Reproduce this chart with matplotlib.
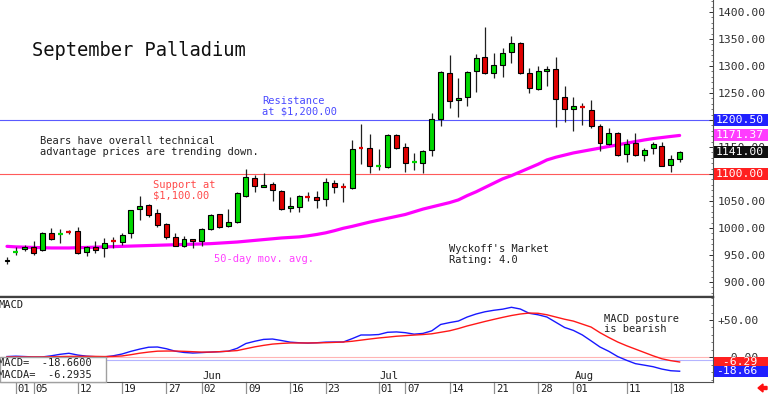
import matplotlib
matplotlib.use('Agg')
import matplotlib.pyplot as plt
from matplotlib.patches import Rectangle, FancyArrow
from matplotlib.transforms import blended_transform_factory, offset_copy, IdentityTransform
from matplotlib.ticker import FuncFormatter, MultipleLocator

plt.rcParams['font.family'] = ['DejaVu Sans Mono']

# ---------------- data ----------------
opens = [939, 955, 961, 965, 959, 990.5, 988, 993.5, 994.5, 955.5,
         965, 963, 976.5, 974, 990.5, 1035, 1042.5, 1028, 1007.5, 983.5,
         966.5, 979.5, 976, 998, 1026, 1003.5, 1011, 1059, 1092.5, 1076.5,
         1081.5, 1068.5, 1037.5, 1039, 1058, 1057.5, 1053.5, 1083.5, 1076.5, 1074,
         1149, 1148, 1114, 1113, 1172, 1150, 1121.5, 1120.5, 1144.5, 1202,
         1287, 1237.5, 1242.5, 1290.5, 1316.5, 1287, 1302, 1326, 1342.5, 1287,
         1257.5, 1291.5, 1294.5, 1242.5, 1220.5, 1225, 1218.5, 1189, 1155.5, 1176,
         1137, 1157.5, 1135, 1148, 1152, 1116.5, 1128]
highs = [946, 965, 968.5, 976, 992.5, 1000, 998, 996, 1002, 966.5,
         976, 981.5, 983, 990.5, 1034, 1059, 1044.5, 1035, 1009, 990.5,
         985, 980, 1000, 1025, 1026.5, 1035, 1066.5, 1109, 1098, 1102,
         1085, 1070.5, 1057.5, 1061, 1066.5, 1068.5, 1092.5, 1089, 1083.5, 1163,
         1192.5, 1174, 1146, 1174, 1174, 1157.5, 1139, 1144.5, 1213, 1290.5,
         1320.5, 1278, 1290.5, 1322, 1372, 1324, 1333, 1355.5, 1344.5, 1296.5,
         1300, 1300, 1316.5, 1263, 1242.5, 1231.5, 1237, 1192.5, 1185, 1178,
         1165, 1176, 1148, 1159.5, 1159.5, 1135, 1142]
lows = [933, 950, 957, 950, 957, 978, 972, 989, 952, 948,
        953.5, 946, 963, 968.5, 981.5, 1015, 1020.5, 1002, 979.5, 966,
        965, 963, 966.5, 996.5, 1000, 1002, 1009, 1057.5, 1066.5, 1076,
        1050, 1034, 1029.5, 1029.5, 1050, 1037, 1040.5, 1065, 1048, 1073,
        1118.5, 1102, 1107.5, 1111, 1146.5, 1103.5, 1107.5, 1102, 1133, 1189,
        1222, 1205.5, 1226, 1252, 1285, 1278, 1279.5, 1305.5, 1285, 1250,
        1256, 1263, 1187, 1196.5, 1179.5, 1190.5, 1185, 1142.5, 1153.5, 1134,
        1122, 1133, 1124, 1137, 1114, 1103.5, 1122]
closes = [941, 956.5, 965, 954, 990.5, 979.5, 989.5, 992, 954, 965,
          959, 972, 975, 987, 1033, 1040.5, 1024, 1005.5, 983.5, 966.5,
          979.5, 976, 998, 1024, 1002, 1011, 1065, 1094.5, 1078, 1079,
          1070.5, 1035, 1040, 1059, 1056.5, 1052, 1085, 1076, 1075, 1146.5,
          1147.5, 1115, 1115.5, 1172, 1148, 1120.5, 1123, 1142.5, 1202, 1289,
          1235, 1240, 1289, 1315, 1287, 1302, 1324, 1342.5, 1287, 1259,
          1290.5, 1294, 1239, 1220.5, 1226, 1223.5, 1189, 1157.5, 1176, 1135,
          1155.5, 1135, 1144.5, 1155.5, 1115, 1128, 1141]
ma50 = [966, 965, 964.5, 964, 963.5, 963, 963, 963, 963.5, 964,
        964.5, 965, 965.5, 966, 966.5, 967, 967.5, 968, 968.5, 969,
        969.5, 970, 970.5, 971, 972, 973, 974, 975.5, 977, 978.5,
        980, 981.5, 982.5, 983.5, 985.5, 988, 991, 995, 999.5, 1003,
        1007, 1011, 1014.5, 1018, 1021.5, 1025, 1030, 1035, 1039, 1043,
        1047, 1052, 1060, 1067, 1075, 1083, 1091, 1097, 1104, 1111,
        1118, 1126, 1131, 1135, 1139, 1142, 1145, 1148, 1151, 1154,
        1157, 1160, 1163, 1165.5, 1167.5, 1169.5, 1171.37]
macd = [1, 1.5, 1, 0.5, 0.5, 2, 4, 5.4, 3, 1.5,
        0.8, 0.5, 2, 4.4, 8, 11, 13.5, 13.8, 11.5, 8.2,
        6.5, 5.7, 6.3, 7, 7.5, 8.2, 12, 18.5, 21.5, 24,
        24.5, 22.5, 20.3, 19.5, 19, 19.5, 20.3, 20.5, 20.5, 25,
        29.9, 29.9, 30.5, 33.5, 34, 33, 31, 32, 35.5, 44,
        46.5, 48.6, 54, 58, 61, 63, 64.5, 67, 64.7, 59,
        57, 54, 47, 40, 36, 30, 22, 13.8, 8, 1,
        -4, -8.5, -10.5, -12.6, -15.8, -18, -18.66]
macd_signal = [0.5, 0.5, 0.5, 0.5, 0.5, 0.8, 1, 1.2, 1.3, 1.3,
               1.2, 1, 1.2, 1.8, 3.5, 5.5, 7, 8.2, 8.4, 8.4,
               8, 7.5, 7, 7, 7.5, 8.2, 9, 11.5, 14, 16,
               17.7, 18.6, 19.2, 19.2, 19.2, 19.3, 19.6, 20, 20.5, 21.5,
               23, 24.5, 25.9, 27, 28.2, 29, 29.8, 30.5, 31.5, 33.5,
               35.5, 38.5, 42, 45, 48, 50.8, 53.5, 56, 58, 59.3,
               59, 57, 54, 51, 48.5, 44.5, 40.5, 33, 26.5, 20.5,
               15.5, 11, 6.5, 2, -2, -4.5, -6.29]
macd_info = [-18.6600, -6.2935]

tick_idx = [2, 4, 9, 14, 19, 23, 28, 33, 37, 43, 46, 51, 56, 61, 65, 71, 76]
tick_lbl = ['01', '05', '12', '19', '27', '02', '09', '16', '23',
            '01', '07', '14', '21', '28', '01', '11', '18']
month_idx = [23, 43, 65]
month_lbl = ['Jun', 'Jul', 'Aug']
price_ticks = [900, 950, 1000, 1050, 1100, 1150, 1200, 1250, 1300, 1350, 1400]
macd_ticks = [0, 50]
resistance = 1200.50
support = 1100.00
macd_zero_lines = [0.0, -3.6]

# ---------------- figure ----------------
W, H = 768, 394
fig = plt.figure(figsize=(W / 100, H / 100), dpi=100)
fig.patch.set_facecolor('white')

ax = fig.add_axes([0, (H - 297) / H, 713 / W, 297 / H])
axm = fig.add_axes([0, 12 / H, 713 / W, 85 / H])

idx = list(range(1, len(opens) + 1))
for a in (ax, axm):
    a.set_xlim(0.21, 80.77)
    a.set_facecolor('white')
    a.spines['left'].set_visible(False)
    a.tick_params(axis='x', bottom=False, labelbottom=False)

ax.set_ylim(872.2, 1422.2)
axm.set_ylim(-33.1, 80.8)

GREEN = '#00d800'
RED = '#e00000'
bw = 0.56

# reference lines
ax.axhline(resistance, color='#5a5aff', lw=0.8, zorder=1)
ax.axhline(support, color='#ff5a5a', lw=0.8, zorder=1)

# moving average
ax.plot(idx, ma50, color='#ff00ff', lw=2.3, zorder=1.5, solid_capstyle='round')

# candles
ax.vlines(idx, lows, highs, color='#202020', lw=0.9, zorder=2)
for i, o, c in zip(idx, opens, closes):
    col = GREEN if c >= o else RED
    if abs(c - o) < 2:
        ax.hlines((o + c) / 2, i - bw / 2, i + bw / 2, color=col, lw=1.6, zorder=3)
    else:
        ax.add_patch(Rectangle((i - bw / 2, min(o, c)), bw, abs(c - o),
                               facecolor=col, edgecolor='black', lw=0.8, zorder=3))

# price axis
ax.yaxis.tick_right()
ax.set_yticks(price_ticks)
ax.yaxis.set_major_formatter(FuncFormatter(lambda v, p: f"{v:7.2f}"))
ax.yaxis.set_minor_locator(MultipleLocator(10))
ax.tick_params(axis='y', which='major', direction='in', length=3, pad=3,
               labelsize=8.2, colors='#303030', width=0.7)
ax.tick_params(axis='y', which='minor', direction='in', length=1.5, width=0.6, colors='#606060')
ax.spines['top'].set_visible(False)
ax.spines['right'].set_color('#505050')
ax.spines['right'].set_linewidth(0.8)
ax.spines['bottom'].set_color('#404040')
ax.spines['bottom'].set_linewidth(1.6)

# MACD panel
for v, col in zip(macd_zero_lines, ['#ffb4b4', '#b4b4ff']):
    axm.axhline(v, color=col, lw=0.8, zorder=1)
axm.plot(idx, macd, color='#1818ff', lw=1.0, zorder=2)
axm.plot(idx, macd_signal, color='#ff1818', lw=1.0, zorder=2)
axm.yaxis.tick_right()
axm.set_yticks(macd_ticks)
axm.yaxis.set_major_formatter(FuncFormatter(
    lambda v, p: (f"{v:+.2f}" if v > 0 else f"{v:.2f}").rjust(6)))
axm.yaxis.set_minor_locator(MultipleLocator(10))
axm.tick_params(axis='y', which='major', direction='in', length=3, pad=3,
                labelsize=8.2, colors='#303030', width=0.7)
axm.tick_params(axis='y', which='minor', direction='in', length=1.5, width=0.6, colors='#606060')
axm.spines['top'].set_color('#404040')
axm.spines['top'].set_linewidth(1.6)
axm.spines['right'].set_color('#505050')
axm.spines['right'].set_linewidth(0.8)
axm.spines['bottom'].set_color('#505050')
axm.spines['bottom'].set_linewidth(0.8)

# date ticks below the MACD panel
tb = blended_transform_factory(axm.transData, axm.transAxes)
tb_lbl = offset_copy(tb, fig=fig, x=2, y=0, units='dots')
for i, lbl in zip(tick_idx, tick_lbl):
    axm.plot([i, i], [0, -12 / 85], transform=tb, color='#909090', lw=0.9, clip_on=False)
    axm.text(i, -7 / 85, lbl, transform=tb_lbl, ha='left', va='center',
             fontsize=7.6, color='#202020', clip_on=False)
tb_mon = offset_copy(tb, fig=fig, x=1, y=0, units='dots')
for i, lbl in zip(month_idx, month_lbl):
    axm.text(i, 6 / 85, lbl, transform=tb_mon, ha='left', va='center',
             fontsize=7.6, color='#202020')

fig.canvas.draw()


# boxed value labels on right axes
def value_box(a, val, text, col, h):
    yd = a.transData.transform((1, val))[1]
    fig.add_artist(Rectangle((714, yd - h / 2), 54, h, transform=IdentityTransform(),
                             facecolor=col, edgecolor='none', zorder=5))
    fig.text(716 / W, yd / H, text, ha='left', va='center', fontsize=8.2,
             color='white', zorder=6)


value_box(ax, resistance, f"{resistance:.2f}", '#2020ff', 12)
value_box(ax, ma50[-1], f"{ma50[-1]:.2f}", '#ff3cff', 12)
value_box(ax, closes[-1], f"{closes[-1]:.2f}", '#101010', 12)
value_box(ax, support, f"{support:.2f}", '#ff2020', 12)
value_box(axm, macd_signal[-1], f"{macd_signal[-1]:6.2f}", '#ff2020', 10)
value_box(axm, macd[-1], f"{macd[-1]:6.2f}", '#2020ff', 11)


def ftext(x, y, s, color='#202020', size=7.5):
    fig.text(x / W, 1 - y / H, s, ha='left', va='center', fontsize=size, color=color, zorder=4)


ftext(32, 50, "September Palladium", color='#101010', size=13.5)
ftext(262, 101.5, "Resistance", color='#4a4aff')
ftext(262, 111.5, "at $1,200.00", color='#4a4aff')
ftext(40, 141, "Bears have overall technical")
ftext(40, 152, "advantage prices are trending down.")
ftext(153, 185, "Support at", color='#ff4a4a')
ftext(153, 195, "$1,100.00", color='#ff4a4a')
ftext(214, 258.5, "50-day mov. avg.", color='#ff40ff')
ftext(449, 249.5, "Wyckoff's Market")
ftext(449, 260, "Rating: 4.0")
ftext(604, 319, "MACD posture")
ftext(604, 328.5, "is bearish")
ftext(-1, 305, "MACD")

# MACD info box (bottom left)
fig.add_artist(Rectangle((0, 12), 106, 25, transform=IdentityTransform(),
                         facecolor='white', edgecolor='#a0a0a0', lw=1.0, zorder=4))
ftext(-2, 362.5, f"MACD=  {macd_info[0]:8.4f}")
ftext(-2, 375, f"MACDA= {macd_info[1]:8.4f}")

# small red arrow bottom right
fig.add_artist(FancyArrow(767, 6, -4, 0, width=3, head_width=8, head_length=5,
                          length_includes_head=False, transform=IdentityTransform(),
                          color='#ff1010', zorder=6))

fig.savefig('out.png', dpi=100, facecolor='white')
